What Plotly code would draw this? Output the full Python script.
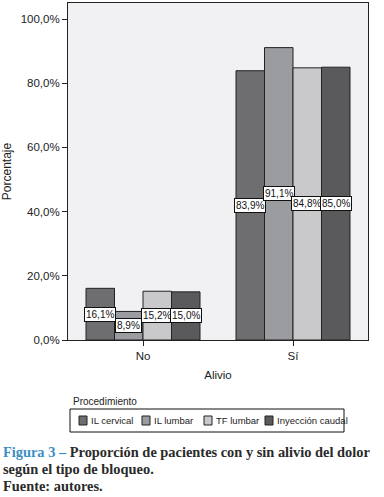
import plotly.graph_objects as go

categories = ["No", "Sí"]
series_names = ["IL cervical", "IL lumbar", "TF lumbar", "Inyección caudal"]
series_values = {
    "IL cervical": [16.1, 83.9],
    "IL lumbar": [8.9, 91.1],
    "TF lumbar": [15.2, 84.8],
    "Inyección caudal": [15.0, 85.0],
}
series_colors = ["#6e6e70", "#9b9c9f", "#c9c9cb", "#5a5a5c"]
ytick_vals = [0, 20, 40, 60, 80, 100]
ytick_text = ["0,0%", "20,0%", "40,0%", "60,0%", "80,0%", "100,0%"]

BARGAP = 0.24
SANS = "Liberation Sans, Arial, sans-serif"

fig = go.Figure()
for name, color in zip(series_names, series_colors):
    fig.add_trace(go.Bar(
        x=categories, y=series_values[name], name=name,
        marker=dict(color=color, line=dict(color="#222222", width=1)),
        showlegend=False,
    ))

annotations = []
nser = len(series_names)
bw = (1 - BARGAP) / nser
for j, name in enumerate(series_names):
    off = -(1 - BARGAP) / 2 + (j + 0.5) * bw
    for i, v in enumerate(series_values[name]):
        annotations.append(dict(
            x=i + off, y=v / 2, xref="x", yref="y",
            text=f"{v:.1f}".replace(".", ",") + "%",
            showarrow=False, font=dict(family=SANS, size=10, color="#111"),
            bgcolor="white", bordercolor="#111", borderwidth=1, borderpad=1,
        ))

# Legend (drawn manually to match the compact boxed legend)
shapes = []
H = 497
def py(ypx):
    return (H - ypx - 157) / (H - 3 - 157)
def px(xpx):
    return (xpx - 68) / 300

shapes.append(dict(type="rect", xref="paper", yref="paper",
                   x0=px(70), x1=px(344), y0=py(409), y1=py(432),
                   line=dict(color="#111", width=1), fillcolor="rgba(0,0,0,0)"))
annotations.append(dict(x=px(71), y=py(402), xref="paper", yref="paper",
                        text="Procedimiento", showarrow=False, xanchor="left",
                        yanchor="middle", font=dict(family=SANS, size=10, color="#222")))
sw_x = [79, 142, 204, 265]
for xs, name, color in zip(sw_x, series_names, series_colors):
    shapes.append(dict(type="rect", xref="paper", yref="paper",
                       x0=px(xs), x1=px(xs + 8), y0=py(425), y1=py(416),
                       line=dict(color="#222", width=1), fillcolor=color))
    annotations.append(dict(x=px(xs + 10), y=py(420.5), xref="paper", yref="paper",
                            text=name, showarrow=False, xanchor="left", yanchor="middle",
                            font=dict(family=SANS, size=9.5, color="#222")))

# Caption
SERIF = "Liberation Serif, serif"
cap_lines = [
    '<b><span style="color:#3b8fc4">Figura 3 –</span> Proporción de pacientes con y sin alivio del dolor</b>',
    '<b>según el tipo de bloqueo.</b>',
    '<b>Fuente: autores.</b>',
]
for k, (t, ypx) in enumerate(zip(cap_lines, [452, 469, 486])):
    annotations.append(dict(x=px(1), y=py(ypx), xref="paper", yref="paper",
                            text=t, showarrow=False, xanchor="left", yanchor="middle",
                            font=dict(family=SERIF, size=14.4, color="#2a2a2a")))

fig.update_layout(
    width=384, height=497,
    margin=dict(l=68, r=16, t=3, b=157),
    barmode="group", bargap=BARGAP, bargroupgap=0,
    plot_bgcolor="#f1f1f3", paper_bgcolor="white",
    font=dict(family=SANS, size=11, color="#222"),
    xaxis=dict(showline=True, mirror=True, linecolor="#222", linewidth=1,
               ticks="outside", ticklen=5, tickcolor="#222",
               tickfont=dict(size=11.5), showgrid=False,
               title=dict(text="Alivio", font=dict(size=11.5), standoff=10)),
    yaxis=dict(range=[0, 105], showline=True, mirror=True, linecolor="#222", linewidth=1,
               ticks="outside", ticklen=5, tickcolor="#222",
               tickvals=ytick_vals, ticktext=ytick_text, tickfont=dict(size=11.5),
               showgrid=False, zeroline=False,
               title=dict(text="Porcentaje", font=dict(size=12), standoff=8)),
    annotations=annotations, shapes=shapes, showlegend=False,
)

fig.write_html("out.html", config={"displayModeBar": False},
               post_script="document.body.style.margin='0';")
